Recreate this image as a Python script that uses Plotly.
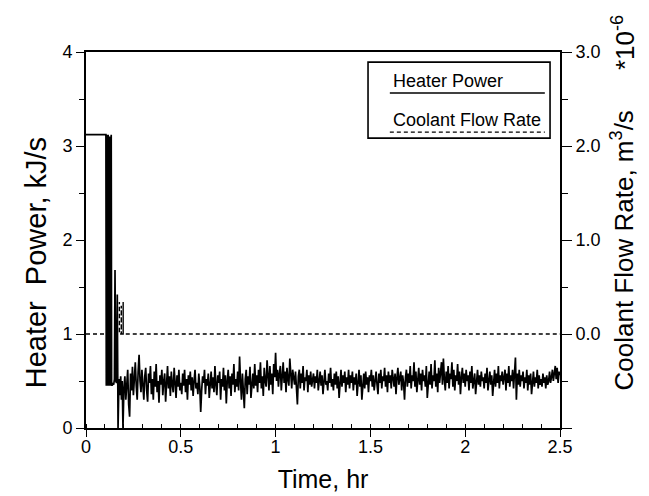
import plotly.graph_objects as go

# heater power, start-up transient (hr, kJ/s)
start_time = [0.0, 0.105, 0.107, 0.109, 0.111, 0.113, 0.115, 0.117, 0.119, 0.121,
              0.123, 0.125, 0.127, 0.129, 0.131, 0.133, 0.135, 0.137, 0.141, 0.146,
              0.150, 0.153, 0.157, 0.161, 0.165, 0.169, 0.174, 0.178, 0.183, 0.187,
              0.191, 0.195]
start_power = [3.12, 3.12, 0.45, 3.12, 0.46, 3.08, 0.45, 3.12, 0.47, 2.95,
               0.45, 3.10, 0.46, 2.93, 0.45, 3.12, 0.46, 0.45, 0.47, 0.46,
               0.52, 1.68, 0.50, 0.48, 1.42, 0.0, 0.52, 0.35, 0.55, 0.30,
               0.50, 0.0]

# heater power after t = 0.2 hr, one reading every 0.005 hr
dt = 0.005
t0 = 0.2
noise_power = [
    0.42, 0.55, 0.30, 0.50, 0.62, 0.25, 0.12, 0.58, 0.40, 0.65, 0.35, 0.52, 0.70, 0.45, 0.30, 0.60, 0.78, 0.50, 0.38, 0.62,
    0.45, 0.30, 0.55, 0.64, 0.40, 0.28, 0.58, 0.48, 0.66, 0.36, 0.52, 0.30, 0.60, 0.44, 0.68, 0.38, 0.50, 0.27, 0.56, 0.46,
    0.62, 0.35, 0.50, 0.58, 0.28, 0.48, 0.66, 0.42, 0.55, 0.34, 0.60, 0.46, 0.38, 0.64, 0.50, 0.32, 0.56, 0.44, 0.62, 0.40,
    0.48, 0.36, 0.58, 0.45, 0.62, 0.38, 0.52, 0.30, 0.56, 0.46, 0.60, 0.40, 0.54, 0.34, 0.50, 0.62, 0.42, 0.48, 0.36, 0.58,
    0.44, 0.17, 0.40, 0.55, 0.48, 0.62, 0.36, 0.52, 0.45, 0.58, 0.32, 0.50, 0.60, 0.42, 0.54, 0.38, 0.66, 0.46, 0.35, 0.56,
    0.48, 0.60, 0.30, 0.52, 0.44, 0.64, 0.40, 0.56, 0.26, 0.50, 0.62, 0.42, 0.55, 0.34, 0.58, 0.46, 0.68, 0.38, 0.52, 0.44,
    0.60, 0.40, 0.76, 0.50, 0.30, 0.58, 0.44, 0.21, 0.52, 0.62, 0.36, 0.55, 0.46, 0.65, 0.32, 0.50, 0.58, 0.42, 0.68, 0.45,
    0.56, 0.38, 0.62, 0.48, 0.70, 0.42, 0.55, 0.34, 0.64, 0.50, 0.44, 0.72, 0.52, 0.40, 0.66, 0.46, 0.58, 0.36, 0.68, 0.54,
    0.80, 0.50, 0.62, 0.44, 0.58, 0.66, 0.40, 0.55, 0.70, 0.48, 0.60, 0.38, 0.64, 0.52, 0.45, 0.74, 0.50, 0.42, 0.62, 0.56,
    0.46, 0.60, 0.34, 0.25, 0.55, 0.62, 0.42, 0.58, 0.48, 0.66, 0.40, 0.54, 0.50, 0.62, 0.38, 0.56, 0.46, 0.60, 0.44, 0.52,
    0.58, 0.42, 0.55, 0.48, 0.62, 0.40, 0.52, 0.60, 0.45, 0.56, 0.36, 0.54, 0.62, 0.46, 0.50, 0.40, 0.58, 0.48, 0.64, 0.44,
    0.52, 0.40, 0.58, 0.46, 0.60, 0.42, 0.55, 0.32, 0.50, 0.62, 0.44, 0.56, 0.48, 0.60, 0.38, 0.54, 0.46, 0.62, 0.42, 0.56,
    0.48, 0.60, 0.40, 0.54, 0.46, 0.58, 0.34, 0.52, 0.62, 0.44, 0.56, 0.30, 0.50, 0.58, 0.42, 0.60, 0.46, 0.54, 0.38, 0.56,
    0.50, 0.62, 0.44, 0.56, 0.40, 0.54, 0.60, 0.46, 0.36, 0.58, 0.48, 0.62, 0.42, 0.55, 0.50, 0.64, 0.44, 0.56, 0.38, 0.60,
    0.48, 0.56, 0.42, 0.62, 0.50, 0.44, 0.58, 0.36, 0.54, 0.64, 0.46, 0.52, 0.60, 0.40, 0.56, 0.48, 0.30, 0.54, 0.62, 0.44,
    0.58, 0.48, 0.66, 0.42, 0.56, 0.50, 0.70, 0.44, 0.60, 0.38, 0.54, 0.64, 0.46, 0.58, 0.40, 0.62, 0.50, 0.56, 0.44, 0.66,
    0.32, 0.52, 0.60, 0.46, 0.68, 0.42, 0.56, 0.50, 0.72, 0.44, 0.58, 0.38, 0.64, 0.48, 0.56, 0.70, 0.46, 0.74, 0.52, 0.40,
    0.60, 0.48, 0.66, 0.42, 0.58, 0.52, 0.70, 0.44, 0.62, 0.40, 0.56, 0.50, 0.68, 0.46, 0.60, 0.36, 0.54, 0.64, 0.48, 0.58,
    0.44, 0.62, 0.50, 0.56, 0.40, 0.60, 0.48, 0.66, 0.42, 0.54, 0.58, 0.36, 0.52, 0.62, 0.46, 0.56, 0.44, 0.60, 0.50, 0.54,
    0.42, 0.58, 0.48, 0.64, 0.40, 0.54, 0.60, 0.46, 0.56, 0.34, 0.52, 0.62, 0.44, 0.58, 0.48, 0.66, 0.42, 0.56, 0.50, 0.60,
    0.46, 0.54, 0.62, 0.40, 0.58, 0.48, 0.66, 0.44, 0.56, 0.50, 0.62, 0.42, 0.54, 0.75, 0.30, 0.58, 0.46, 0.62, 0.44, 0.56,
    0.50, 0.60, 0.42, 0.54, 0.48, 0.62, 0.40, 0.56, 0.46, 0.58, 0.36, 0.52, 0.60, 0.44, 0.54, 0.48, 0.62, 0.42, 0.56, 0.46,
    0.52, 0.44, 0.58, 0.48, 0.54, 0.42, 0.56, 0.46, 0.50, 0.60, 0.48, 0.54, 0.62, 0.50, 0.58, 0.66, 0.52, 0.64, 0.48, 0.60,
    0.56,
]

# coolant flow rate (*1e-6 m3/s)
coolant_time = [0.0, 0.176, 0.176, 0.176, 0.186, 0.186, 0.186, 0.196, 0.196, 0.196, 2.5]
coolant_flow = [0.0, 0.0, 0.34, 0.0, 0.0, 0.30, 0.0, 0.0, 0.34, 0.0, 0.0]

x_ticks = [0, 0.5, 1, 1.5, 2, 2.5]
x_labels = ["0", "0.5", "1", "1.5", "2", "2.5"]
y2_ticks = [-1, 0, 1, 2, 3]
y2_labels = ["", "0.0", "1.0", "2.0", "3.0"]

noise_time = [t0 + i * dt for i in range(len(noise_power))]
time = start_time + noise_time
power = start_power + noise_power

font = "Liberation Sans, Arial, sans-serif"

fig = go.Figure()
fig.add_trace(go.Scatter(x=time, y=power, mode="lines",
                         line=dict(color="black", width=1.7), showlegend=False))
fig.add_trace(go.Scatter(x=coolant_time, y=coolant_flow, mode="lines", yaxis="y2",
                         line=dict(color="black", width=1.4, dash="4px,3px"),
                         showlegend=False))

# legend box, drawn like the original (label over a line sample)
shapes = [
    dict(type="rect", xref="paper", yref="paper", x0=0.595, x1=0.979, y0=0.771, y1=0.973,
         line=dict(color="black", width=1.6)),
    dict(type="line", xref="paper", yref="paper", x0=0.641, x1=0.968, y0=0.891, y1=0.891,
         line=dict(color="black", width=1.4)),
    dict(type="line", xref="paper", yref="paper", x0=0.641, x1=0.968, y0=0.787, y1=0.787,
         line=dict(color="black", width=1.4, dash="4px,3px")),
]
annotations = [
    dict(text="Heater Power", xref="paper", yref="paper", x=0.643, y=0.922,
         xanchor="left", yanchor="middle", showarrow=False, font=dict(size=18)),
    dict(text="Coolant Flow Rate", xref="paper", yref="paper", x=0.643, y=0.818,
         xanchor="left", yanchor="middle", showarrow=False, font=dict(size=18)),
    dict(text="Heater  Power, kJ/s", xref="paper", yref="paper",
         x=-0.106, y=0.44, xanchor="center", yanchor="middle", textangle=-90,
         showarrow=False, font=dict(size=29)),
    dict(text="Coolant Flow Rate, m<sup>3</sup>/s", xref="paper", yref="paper",
         x=1.132, y=0.471, xanchor="center", yanchor="middle", textangle=-90,
         showarrow=False, font=dict(size=26)),
    dict(text="*10<sup>-6</sup>", xref="paper", yref="paper",
         x=1.134, y=1.025, xanchor="center", yanchor="middle", textangle=-90,
         showarrow=False, font=dict(size=26)),
]

axis_common = dict(showline=True, linecolor="black", linewidth=1.6, ticks="outside",
                   tickcolor="black", tickwidth=1.4, showgrid=False, zeroline=False,
                   tickfont=dict(size=18), automargin=False)

# the page adds an 8px body margin, so the figure is sized to fit the window
fig.update_layout(
    width=641, height=488,
    margin=dict(l=78, r=89, t=44, b=68),
    paper_bgcolor="white", plot_bgcolor="white",
    font=dict(family=font, color="black"),
    xaxis=dict(range=[0, 2.5], tickvals=x_ticks, ticktext=x_labels, ticklen=7, mirror=True,
               ticklabelstandoff=-5,
               minor=dict(dtick=0.1, ticks="inside", ticklen=4, tickcolor="black"),
               title=dict(text="Time, hr", font=dict(size=25), standoff=14),
               **axis_common),
    yaxis=dict(range=[0, 4], dtick=1, ticklen=8,
               minor=dict(dtick=0.5, ticks="outside", ticklen=5, tickcolor="black"),
               **axis_common),
    yaxis2=dict(range=[-1, 3], overlaying="y", side="right", tickvals=y2_ticks,
                ticktext=y2_labels, ticklen=10,
                minor=dict(dtick=0.5, ticks="outside", ticklen=6, tickcolor="black"),
                **axis_common),
    shapes=shapes,
    annotations=annotations,
)

fig.write_html("out.html")
